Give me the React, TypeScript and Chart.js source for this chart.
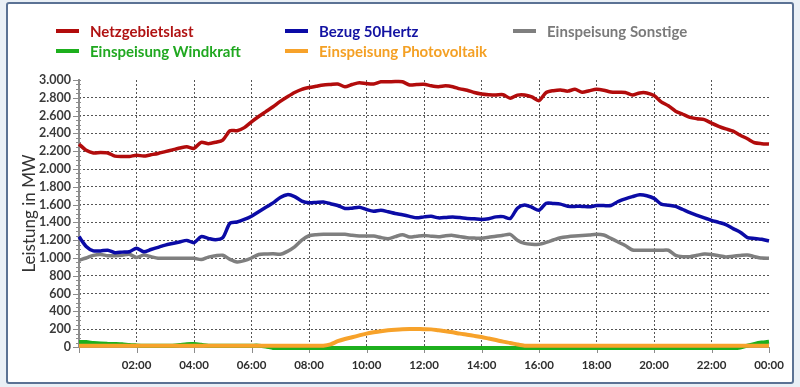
import React, { useEffect, useRef } from 'react';
import { Chart, registerables } from 'chart.js';

Chart.register(...registerables);

// 15-minute values from 00:00 to 24:00 (97 points), MW
const netzgebietslast = [
  2280, 2210, 2180, 2185, 2180, 2145, 2140, 2140, 2155, 2145, 2160, 2175,
  2195, 2215, 2235, 2250, 2232, 2300, 2285, 2300, 2325, 2430, 2430, 2465,
  2530, 2590, 2645, 2700, 2760, 2812, 2860, 2895, 2915, 2930, 2944, 2950,
  2955, 2925, 2950, 2970, 2960, 2955, 2980, 2980, 2982, 2980, 2944, 2950,
  2952, 2935, 2925, 2935, 2925, 2900, 2885, 2860, 2843, 2835, 2832, 2835,
  2795, 2830, 2832, 2810, 2768, 2860, 2880, 2888, 2875, 2895, 2862, 2880,
  2895, 2885, 2865, 2862, 2860, 2832, 2855, 2855, 2825, 2755, 2710, 2650,
  2615, 2580, 2565, 2555, 2515, 2480, 2450, 2425, 2380, 2340, 2295, 2285,
  2280,
];
const bezug50Hertz = [
  1240, 1130, 1080, 1080, 1087, 1060, 1066, 1070, 1110, 1070, 1095, 1120,
  1145, 1163, 1180, 1198, 1172, 1240, 1220, 1205, 1228, 1390, 1405, 1433,
  1470, 1520, 1570, 1619, 1680, 1712, 1690, 1640, 1620, 1625, 1630, 1610,
  1590, 1556, 1560, 1570, 1545, 1526, 1537, 1520, 1500, 1485, 1468, 1451,
  1462, 1468, 1451, 1455, 1462, 1455, 1445, 1440, 1433, 1442, 1462, 1465,
  1444, 1560, 1595, 1570, 1537, 1615, 1612, 1605, 1580, 1580, 1580, 1575,
  1589, 1589, 1590, 1635, 1665, 1690, 1710, 1700, 1670, 1605, 1592, 1580,
  1545, 1510, 1480, 1450, 1422, 1400, 1375, 1330, 1290, 1230, 1220, 1210,
  1191,
];
const einspeisungSonstige = [
  975, 1000, 1030, 1040, 1025, 1025, 1030, 1042, 1005, 1034, 1015, 997,
  997, 997, 997, 997, 997, 982, 1010, 1025, 1031, 985, 956, 970,
  1000, 1040, 1045, 1049, 1042, 1075, 1125, 1200, 1250, 1262, 1266, 1266,
  1266, 1266, 1255, 1247, 1247, 1247, 1230, 1217, 1240, 1262, 1235, 1245,
  1254, 1245, 1239, 1250, 1254, 1240, 1228, 1224, 1221, 1232, 1245, 1255,
  1266, 1200, 1165, 1155, 1154, 1175, 1202, 1228, 1240, 1247, 1252, 1258,
  1266, 1258, 1220, 1180, 1140, 1090, 1087, 1087, 1087, 1087, 1087, 1030,
  1015, 1015, 1030, 1045, 1040, 1025, 1012, 1020, 1028, 1034, 1015, 1000,
  997,
];
const einspeisungWindkraft = [
  55, 55, 45, 38, 35, 33, 30, 22, 18, 15, 15, 15,
  15, 15, 22, 32, 33, 25, 15, 15, 15, 15, 15, 15,
  15, 15, 5, -10, -12, -12, -12, -12, -12, -12, -12, -12,
  -12, -12, -12, -12, -12, -12, -12, -12, -12, -12, -12, -12,
  -12, -12, -12, -12, -12, -12, -12, -12, -12, -12, -12, -12,
  -12, -12, -12, -12, -12, -12, -12, -12, -12, -12, -12, -12,
  -12, -12, -12, -12, -12, -12, -12, -12, -12, -12, -12, -12,
  -12, -12, -12, -12, -12, -12, -12, -12, -5, 15, 35, 50,
  60,
];
const einspeisungPhotovoltaik = [
  15, 15, 15, 15, 15, 15, 15, 15, 15, 15, 15, 15,
  15, 15, 15, 15, 15, 15, 15, 15, 15, 15, 15, 15,
  15, 15, 15, 15, 15, 15, 15, 15, 15, 15, 15, 30,
  65, 90, 110, 130, 150, 165, 178, 188, 195, 200, 202, 202,
  200, 198, 188, 178, 165, 150, 138, 125, 112, 95, 78, 60,
  45, 28, 15, 15, 15, 15, 15, 15, 15, 15, 15, 15,
  15, 15, 15, 15, 15, 15, 15, 15, 15, 15, 15, 15,
  15, 15, 15, 15, 15, 15, 15, 15, 15, 15, 15, 15,
  15,
];

const xTickLabels = ['', '02:00', '04:00', '06:00', '08:00', '10:00', '12:00', '14:00', '16:00', '18:00', '20:00', '22:00', '00:00'];
const yTitle = 'Leistung in MW';

const seriesNames = ['Netzgebietslast', 'Bezug 50Hertz', 'Einspeisung Sonstige', 'Einspeisung Windkraft', 'Einspeisung Photovoltaik'];
const lineColors = ['#B20C0C', '#0B0BA6', '#7F7F7F', '#1DAF1D', '#F7A22A'];
const textColors = ['#B01212', '#1212A2', '#7A7A7A', '#20A820', '#F4A024'];

const formatY = (v: number) => {
  if (v >= 1000) {
    const t = Math.floor(v / 1000);
    const r = String(v % 1000).padStart(3, '0');
    return `${t}.${r}`;
  }
  return String(v);
};

const axesPlugin = {
  id: 'axesDeco',
  beforeDatasetsDraw(chart: any) {
    const { ctx, scales } = chart;
    const xs = scales.x;
    const ys = scales.y;
    const x0 = Math.round(xs.getPixelForValue(0));
    const x1 = xs.getPixelForValue(24);
    const yTop = ys.getPixelForValue(3000);
    const yBot = Math.round(ys.getPixelForValue(0));
    ctx.save();
    ctx.strokeStyle = '#8C8C8C';
    ctx.lineWidth = 2;
    ctx.beginPath();
    ctx.moveTo(x0, yTop - 1);
    ctx.lineTo(x0, yBot + 1);
    ctx.stroke();
    ctx.beginPath();
    ctx.moveTo(x0 - 1, yBot);
    ctx.lineTo(x1, yBot);
    ctx.stroke();
    ctx.lineWidth = 1;
    for (let v = 0; v <= 3000; v += 50) {
      const py = Math.round(ys.getPixelForValue(v)) + 0.5;
      const major = v % 200 === 0;
      ctx.beginPath();
      ctx.moveTo(x0 - (major ? 6 : 3), py);
      ctx.lineTo(x0 + 2, py);
      ctx.stroke();
    }
    for (let h = 0; h <= 24; h += 2) {
      const px = Math.round(xs.getPixelForValue(h)) + 0.5;
      ctx.beginPath();
      ctx.moveTo(px, yBot);
      ctx.lineTo(px, yBot + 6);
      ctx.stroke();
    }
    ctx.restore();
  },
};

export default function App() {
  const canvasRef = useRef<HTMLCanvasElement | null>(null);

  useEffect(() => {
    if (!canvasRef.current) return;
    const series = [netzgebietslast, bezug50Hertz, einspeisungSonstige, einspeisungWindkraft, einspeisungPhotovoltaik];
    const orders = [0, 0, 0, 2, 1];
    const datasets = series.map((arr, si) => ({
      label: seriesNames[si],
      data: arr.map((v, i) => ({ x: i / 4, y: v })),
      borderColor: lineColors[si],
      backgroundColor: lineColors[si],
      borderWidth: si >= 3 ? 4 : 3.5,
      pointRadius: 0,
      tension: 0.25,
      fill: false,
      order: orders[si],
      clip: 8,
    }));
    const chart = new Chart(canvasRef.current, {
      type: 'line',
      data: { datasets },
      plugins: [axesPlugin],
      options: {
        animation: false,
        responsive: false,
        devicePixelRatio: 1,
        layout: { padding: { left: 0, top: 80, right: 31, bottom: 0 } },
        plugins: { legend: { display: false }, tooltip: { enabled: false } },
        scales: {
          x: {
            type: 'linear',
            min: 0,
            max: 24,
            afterFit: (s: any) => { s.height = 40; },
            ticks: {
              stepSize: 2,
              autoSkip: false,
              maxRotation: 0,
              padding: 11,
              color: '#2E2E2E',
              font: { family: 'Lato', size: 11.5, weight: 'bold' },
              callback: (v: any) => xTickLabels[Math.round(Number(v) / 2)] ?? '',
            },
            grid: {
              drawTicks: false,
              lineWidth: 1,
              color: (c: any) => {
                const v = c.tick ? c.tick.value : 0;
                return v === 0 || v === 24 ? 'rgba(0,0,0,0)' : '#555555';
              },
            },
            border: { display: false, dash: [2, 2] },
          },
          y: {
            min: 0,
            max: 3000,
            afterFit: (s: any) => { s.width = 79; },
            ticks: {
              stepSize: 200,
              autoSkip: false,
              padding: 8,
              color: '#3A3A3A',
              font: { family: 'Lato', size: 12.5, weight: 'bold' },
              callback: (v: any) => formatY(Number(v)),
            },
            title: {
              display: true,
              text: yTitle,
              color: '#333333',
              font: { family: 'Lato', size: 17 },
              padding: { top: 19, bottom: 0 },
            },
            grid: {
              drawTicks: false,
              lineWidth: 1,
              color: (c: any) => {
                const v = c.tick ? c.tick.value : 0;
                return v === 0 || v === 3000 ? 'rgba(0,0,0,0)' : '#555555';
              },
            },
            border: { display: false, dash: [2, 2] },
          },
        },
      },
    });
    return () => chart.destroy();
  }, []);

  const legendPos = [
    { left: 56, top: 31 },
    { left: 285, top: 31 },
    { left: 513, top: 31 },
    { left: 56, top: 51 },
    { left: 285, top: 51 },
  ];

  return (
    <div style={{ position: 'fixed', left: 0, top: 0, width: 800, height: 387, background: '#EAF0F6', overflow: 'hidden' }}>
      <div
        style={{
          position: 'absolute',
          left: 6,
          top: 2,
          width: 784,
          height: 378,
          border: '2px solid #5B7294',
          borderRadius: 3,
          background: '#FFFFFF',
        }}
      />
      <canvas ref={canvasRef} width={800} height={387} style={{ position: 'absolute', left: 0, top: 0, width: 800, height: 387 }} />
      {seriesNames.map((name, i) => (
        <div
          key={name}
          style={{
            position: 'absolute',
            left: legendPos[i].left,
            top: legendPos[i].top - 10,
            height: 20,
            display: 'flex',
            alignItems: 'center',
            fontFamily: 'Lato',
            fontWeight: 'bold',
            fontSize: 15,
            color: textColors[i],
            whiteSpace: 'nowrap',
          }}
        >
          <span style={{ display: 'inline-block', width: 23, height: 4, background: lineColors[i], marginRight: 11 }} />
          <span>{name}</span>
        </div>
      ))}
    </div>
  );
}
